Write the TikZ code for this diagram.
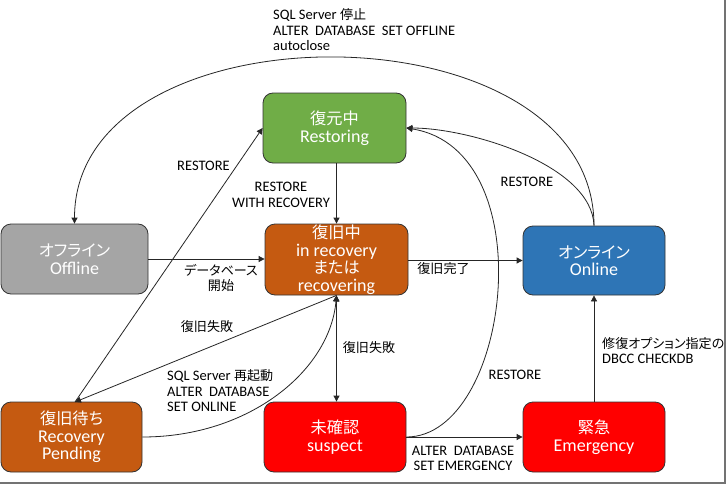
\documentclass[tikz,border=0pt]{standalone}
\usepackage{fontspec}
\setmainfont{Carlito}
\newfontfamily\jp{Noto Sans CJK JP}[Scale=0.9,RawFeature=+palt]
\usetikzlibrary{arrows.meta,calc}
\definecolor{cgreen}{HTML}{70AD47}
\definecolor{cgray}{HTML}{A5A5A5}
\definecolor{corange}{HTML}{C55A11}
\definecolor{cblue}{HTML}{2E75B6}
\definecolor{cred}{HTML}{FF0000}
\begin{document}
\begin{tikzpicture}[x=1pt,y=-1pt,
  state/.style={draw=black!80, line width=0.8pt, rounded corners=10pt,
    minimum width=142pt, minimum height=70pt, text=white, align=center,
    font=\fontsize{18}{17.5}\selectfont, inner sep=0pt},
  lab/.style={font=\fontsize{14.5}{15.5}\selectfont, inner sep=0pt, text=black},
  conn/.style={draw=black!85, line width=0.8pt},
  arr/.style={conn, -{Triangle[length=6pt,width=6pt]}},
  darr/.style={conn, {Triangle[length=6pt,width=6pt]}-{Triangle[length=6pt,width=6pt]}}
]
\useasboundingbox (0,0) rectangle (728,487);
\fill[white] (0,0) rectangle (728,487);
\draw[black!55, line width=2pt] (724.5,0) -- (724.5,483) -- (0,483);

% states
\node[state, fill=cgreen, minimum width=143pt] (rest) at (334.5,128) {{\jp 復元中}\\Restoring};
\node[state, fill=cgray, minimum width=147pt] (off) at (74.5,259) {{\jp オフライン}\\Offline};
\node[state, fill=corange, minimum width=143pt, minimum height=71pt] (rec) at (336.5,259.5) {{\jp 復旧中}\\in recovery\\{\jp または}\\recovering};
\node[state, fill=cblue, minimum height=69pt] (onl) at (594,260.5) {{\jp オンライン}\\Online};
\node[state, fill=corange, minimum width=141pt] (pend) at (71.5,437) {{\jp 復旧待ち}\\Recovery\\Pending};
\node[state, fill=cred] (sus) at (335,437) {{\jp 未確認}\\suspect};
\node[state, fill=cred] (emg) at (594,437) {{\jp 緊急}\\Emergency};

\coordinate (pn) at (75,402);

% connectors
\draw[arr] (onl.north) .. controls (594,2) and (74.5,2) .. (off.north);
\draw[arr] (onl.north) .. controls (592,165) and (470,128) .. (rest.east);
\draw[arr] (sus.east) .. controls (510,437) and (545,150) .. (rest.east);
\draw[arr] (rest.south -| rec.north) -- (rec.north);
\draw[arr] (off.east) -- (off.east -| rec.west);
\draw[arr] (rec.east |- onl.west) -- (onl.west);
\draw[darr] (rec.south) -- (rec.south |- sus.north);
\draw[arr] (rec.south) -- (pn);
\draw[arr] (pn) -- (rest.west);
\draw[arr] (pend.east) .. controls (250,437) and (330,370) .. (rec.south);
\draw[arr] (sus.east) -- (emg.west);
\draw[arr] (emg.north) -- (onl.south);

% labels
\node[lab, anchor=west, align=left] (l1) at (273,30) {SQL Server {\jp 停止}\\ALTER\ \ DATABASE\ \ SET OFFLINE\\autoclose};
\node[lab] (l2) at (203.5,166) {RESTORE};
\node[lab, align=center] (l3) at (281,195) {RESTORE\\WITH RECOVERY};
\node[lab] (l4) at (527,182) {RESTORE};
\node[lab, align=center] (l5) at (221,278) {{\jp データベース}\\{\jp 開始}};
\node[lab] (l6) at (443.5,269) {\jp 復旧完了};
\node[lab] (l7) at (207,327) {\jp 復旧失敗};
\node[lab] (l8) at (369,348) {\jp 復旧失敗};
\node[lab, anchor=west, align=left] (l9) at (167,391) {SQL Server {\jp 再起動}\\ALTER\ \ DATABASE\\SET ONLINE};
\node[lab] (l10) at (515,375) {RESTORE};
\node[lab, anchor=west, align=left] (l11) at (602,350.5) {{\jp 修復オプション指定の}\\DBCC CHECKDB};
\node[lab, align=center] (l12) at (463,458.5) {ALTER\ \ DATABASE\\SET EMERGENCY};
\end{tikzpicture}
\end{document}
